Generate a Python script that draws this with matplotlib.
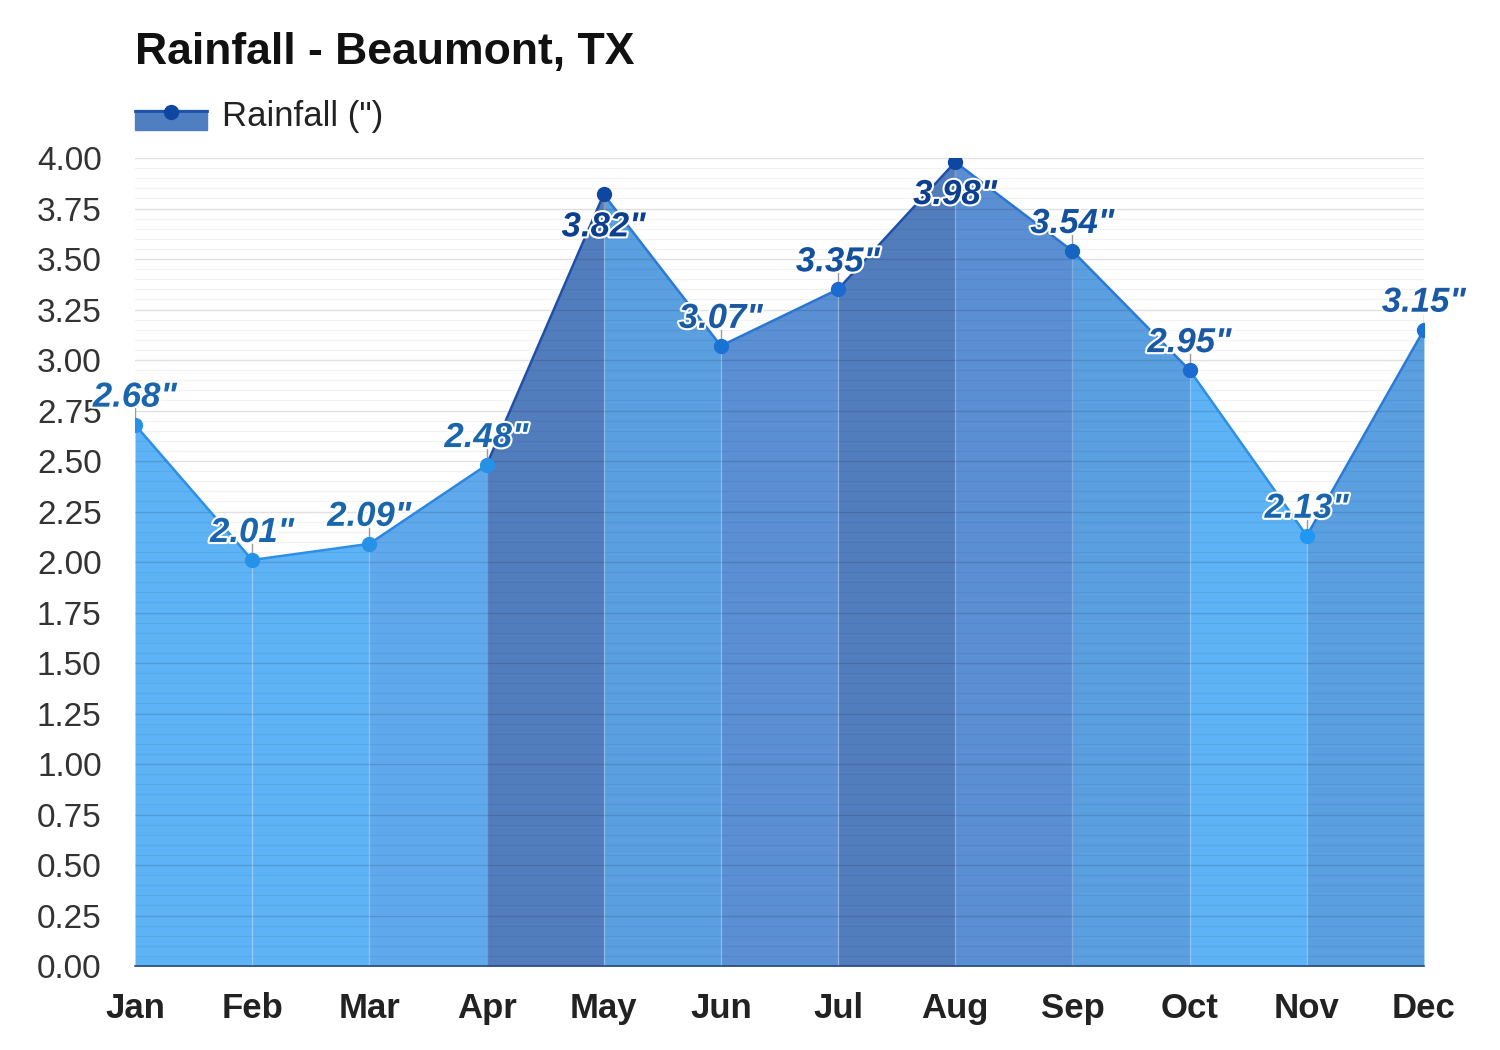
import matplotlib
matplotlib.use("Agg")
import matplotlib.pyplot as plt
import matplotlib.patheffects as pe
from matplotlib.lines import Line2D
from matplotlib.patches import Rectangle
from matplotlib.ticker import MultipleLocator

plt.rcParams['font.family'] = ['Liberation Sans', 'DejaVu Sans']

months = ["Jan", "Feb", "Mar", "Apr", "May", "Jun", "Jul", "Aug", "Sep", "Oct", "Nov", "Dec"]
rain = [2.68, 2.01, 2.09, 2.48, 3.82, 3.07, 3.35, 3.98, 3.54, 2.95, 2.13, 3.15]
labels = ['2.68"', '2.01"', '2.09"', '2.48"', '3.82"', '3.07"', '3.35"', '3.98"', '3.54"', '2.95"', '2.13"', '3.15"']
yticks = [0.00, 0.25, 0.50, 0.75, 1.00, 1.25, 1.50, 1.75, 2.00, 2.25, 2.50, 2.75, 3.00, 3.25, 3.50, 3.75, 4.00]

seg_fill = ['#5db3f5', '#5db3f5', '#5fa8ec', '#527dbd', '#5a9fe0', '#5a8fd4',
            '#527dbd', '#5a8fd4', '#5a9fe0', '#5db3f5', '#5a9fe0']
seg_line = ['#2d8fe6', '#2d8fe6', '#2a86e0', '#1e50a8', '#2a7ad8', '#2a74d2',
            '#1e50a8', '#2a74d2', '#2a7ad8', '#2d8fe6', '#2a7ad8']
marker_col = ['#2592e8', '#2592e8', '#2592e8', '#2592e8', '#0d47a1', '#1a73d4',
              '#1a6ad0', '#0d47a1', '#1565c0', '#1a6ad0', '#2196f3', '#1a73d4']
label_col = ['#1a66ad', '#1a66ad', '#1a66ad', '#1a66ad', '#0d3f8f', '#1a5aa5',
             '#13509e', '#0d3f8f', '#13509e', '#1a5aa5', '#1a66ad', '#1a5aa5']
label_below = [False, False, False, False, True, False, False, True, False, False, False, False]

fig = plt.figure(figsize=(15, 10.5), dpi=100)
ax = fig.add_axes([0.09, 0.08, 0.8593, 0.7695])

x = list(range(len(months)))
for i in range(len(x) - 1):
    ax.fill_between(x[i:i + 2], [0, 0], rain[i:i + 2], color=seg_fill[i], lw=0, zorder=1)
    ax.plot(x[i:i + 2], rain[i:i + 2], color=seg_line[i], lw=1.8, zorder=3,
            solid_capstyle='round')
# faint separators between segments
for i in range(1, len(x) - 1):
    ax.plot([x[i], x[i]], [0, rain[i]], color='white', alpha=0.2, lw=1, zorder=1.2)

for i in x:
    tick = -0.08 if label_below[i] else 0.08
    ax.plot([x[i], x[i]], [rain[i], rain[i] + tick], color='#999999', lw=1, zorder=3.5)
    ax.plot(x[i], rain[i], 'o', color=marker_col[i], ms=10, mec=marker_col[i], zorder=4)
    dy = -29 if label_below[i] else 31
    ax.annotate(labels[i], (x[i], rain[i]), xytext=(0, dy * 0.72), textcoords='offset points',
                ha='center', va='center_baseline', fontsize=25, fontweight='bold', fontstyle='italic',
                color=label_col[i], zorder=5,
                path_effects=[pe.withStroke(linewidth=3, foreground='white')])

ax.set_xlim(0, 11)
ax.set_ylim(0, 4.0)
ax.set_yticks(yticks)
ax.set_yticklabels([f"{v:.2f}" for v in yticks])
ax.yaxis.set_minor_locator(MultipleLocator(0.05))
ax.set_xticks(x)
ax.set_xticklabels(months)
ax.set_axisbelow('line')
ax.grid(which='major', axis='y', color='#000000', alpha=0.12, lw=1)
ax.grid(which='minor', axis='y', color='#000000', alpha=0.05, lw=0.8)
ax.tick_params(axis='both', which='both', length=0)
ax.tick_params(axis='y', labelsize=24, labelcolor='#333333', pad=24)
ax.tick_params(axis='x', labelsize=25, labelcolor='#222222', pad=19)
for lab in ax.get_xticklabels():
    lab.set_fontweight('bold')
for s in ['top', 'right', 'left']:
    ax.spines[s].set_visible(False)
ax.spines['bottom'].set_color('#2a4a7a')
ax.spines['bottom'].set_linewidth(1.2)

fig.text(0.09, 1 - 48 / 1050, "Rainfall - Beaumont, TX", fontsize=32, fontweight='bold',
         color='#111111', ha='left', va='center_baseline')

# legend
fig.patches.append(Rectangle((0.09, 1 - 130 / 1050), 72 / 1500, 20 / 1050,
                             transform=fig.transFigure, color='#4f7fc0', zorder=1))
fig.lines.append(Line2D([0.09, 0.09 + 72 / 1500], [1 - 111 / 1050] * 2, transform=fig.transFigure,
                        color='#1e50a8', lw=2, zorder=2))
fig.lines.append(Line2D([0.09 + 36 / 1500], [1 - 112 / 1050], transform=fig.transFigure,
                        marker='o', ms=10, color='#0d47a1', zorder=3))
fig.text(222 / 1500, 1 - 113 / 1050, 'Rainfall (")', fontsize=25, color='#222222',
         ha='left', va='center_baseline')

fig.savefig("out.png", dpi=100, facecolor='white')
